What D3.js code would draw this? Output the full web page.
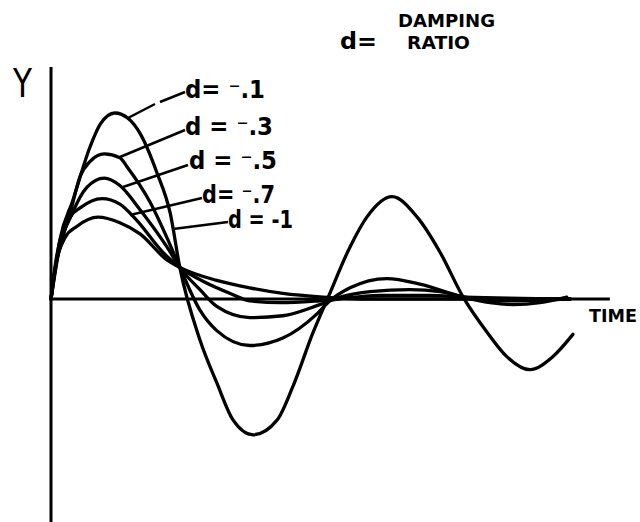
<!DOCTYPE html>
<html>
<head>
<meta charset="utf-8">
<script src="https://cdn.jsdelivr.net/npm/d3@7"></script>
<style>
  body { margin: 0; background: #fff; }
  svg { display: block; }
  text { font-family: "DejaVu Sans", sans-serif; fill: #000; }
</style>
</head>
<body>
<div id="chart"></div>
<script>
// damping ratios and their response curves: [time, amplitude]
const dampingLabels = ["d= \u207B.1", "d = \u207B.3", "d = \u207B.5", "d= \u207B.7", "d = -1"];

const curveD01 = [
  [0, 0], [0.16, 0.32], [0.39, 0.53], [0.70, 0.82], [0.88, 0.94], [1.14, 1.00],
  [1.38, 0.97], [1.59, 0.89], [1.89, 0.68], [2.13, 0.46], [2.30, 0.17], [2.66, -0.22],
  [2.96, -0.45], [3.25, -0.65], [3.61, -0.73], [4.04, -0.65], [4.32, -0.47], [4.68, -0.18],
  [4.95, 0.01], [5.34, 0.28], [5.64, 0.44], [6.09, 0.55], [6.54, 0.44], [6.95, 0.25],
  [7.36, 0.01], [7.79, -0.18], [8.14, -0.31], [8.55, -0.38], [8.96, -0.31], [9.32, -0.19]
];
const curveD03 = [
  [0, 0], [0.13, 0.24], [0.34, 0.46], [0.52, 0.66], [0.70, 0.74], [0.95, 0.78],
  [1.23, 0.76], [1.36, 0.71], [1.77, 0.52], [2.07, 0.33], [2.30, 0.17], [2.66, -0.06],
  [2.96, -0.17], [3.55, -0.25], [4.14, -0.21], [4.75, -0.08], [4.98, -0.01], [5.34, 0.06],
  [6.00, 0.11], [6.59, 0.08], [7.36, 0.01], [7.84, -0.02], [8.25, -0.03], [8.73, -0.02],
  [9.21, 0.01]
];
const curveD05 = [
  [0, 0], [0.11, 0.22], [0.38, 0.46], [0.64, 0.60], [0.95, 0.65], [1.23, 0.61],
  [1.59, 0.48], [2.07, 0.28], [2.30, 0.17], [2.66, 0.05], [2.96, -0.04], [3.55, -0.10],
  [4.14, -0.09], [4.80, -0.03], [5.16, 0.01], [5.70, 0.04], [6.41, 0.05], [6.95, 0.04],
  [7.39, 0.01], [8.02, -0.01], [9.27, 0]
];
const curveD07 = [
  [0, 0], [0.09, 0.21], [0.34, 0.44], [0.52, 0.49], [0.91, 0.54], [1.23, 0.51],
  [1.54, 0.42], [2.00, 0.25], [2.30, 0.17], [2.75, 0.09], [3.20, 0.03], [3.55, -0.01],
  [4.09, -0.02], [4.80, -0.01], [5.88, 0.02], [6.77, 0.02], [7.39, 0.01], [9.27, 0]
];
const curveD10 = [
  [0, 0], [0.04, 0.10], [0.25, 0.33], [0.46, 0.39], [0.84, 0.44], [1.23, 0.41],
  [1.59, 0.35], [2.07, 0.21], [2.30, 0.17], [2.96, 0.10], [3.55, 0.06], [4.14, 0.03],
  [4.86, 0.01], [5.52, 0], [9.27, 0]
];
const curves = [curveD01, curveD03, curveD05, curveD07, curveD10];

const width = 640;
const height = 522;

const svg = d3.select("#chart")
  .append("svg")
  .attr("width", width)
  .attr("height", height);

const x = d3.scaleLinear().domain([0, 10]).range([51, 611]);
const y = d3.scaleLinear().domain([-1, 1]).range([485, 113]);

// axes (hand drawn, no ticks)
svg.append("line")
  .attr("x1", x(0)).attr("x2", x(0))
  .attr("y1", y(1.247)).attr("y2", height)
  .attr("stroke", "#000").attr("stroke-width", 3);

svg.append("line")
  .attr("x1", x(0)).attr("x2", x(9.98))
  .attr("y1", y(0)).attr("y2", y(0))
  .attr("stroke", "#000").attr("stroke-width", 3);

const line = d3.line()
  .x(d => x(d[0]))
  .y(d => y(d[1]))
  .curve(d3.curveMonotoneX);

svg.selectAll(".resp")
  .data(curves)
  .enter()
  .append("path")
  .attr("class", "resp")
  .attr("fill", "none")
  .attr("stroke", "#000")
  .attr("stroke-width", 3.3)
  .attr("stroke-linejoin", "round")
  .attr("stroke-linecap", "round")
  .attr("d", d => line(d));

// leader lines from curves to labels
const leaders = [
  [[128, 118], [155, 104]],
  [[160, 102], [185, 92]],
  [[120, 157], [185, 130]],
  [[123, 187], [188, 165]],
  [[130, 215], [202, 198]],
  [[173, 229], [228, 222]]
];
svg.selectAll(".leader")
  .data(leaders)
  .enter()
  .append("line")
  .attr("x1", d => d[0][0]).attr("y1", d => d[0][1])
  .attr("x2", d => d[1][0]).attr("y2", d => d[1][1])
  .attr("stroke", "#000").attr("stroke-width", 2.5);

const labelPos = [
  { x: 185, y: 98, w: 80 },
  { x: 185, y: 135, w: 88 },
  { x: 189, y: 169, w: 88 },
  { x: 202, y: 203, w: 73 },
  { x: 228, y: 228, w: 65 }
];
svg.selectAll(".dlabel")
  .data(dampingLabels)
  .enter()
  .append("text")
  .attr("class", "dlabel")
  .attr("x", (d, i) => labelPos[i].x)
  .attr("y", (d, i) => labelPos[i].y)
  .attr("textLength", (d, i) => labelPos[i].w)
  .attr("lengthAdjust", "spacingAndGlyphs")
  .style("font-size", "24px")
  .style("font-weight", "bold")
  .text(d => d);

// title and axis names
svg.append("text")
  .attr("x", 340).attr("y", 49)
  .attr("textLength", 37).attr("lengthAdjust", "spacingAndGlyphs")
  .style("font-size", "23px").style("font-weight", "bold")
  .text("d=");

svg.append("text")
  .attr("x", 398).attr("y", 27)
  .attr("textLength", 97).attr("lengthAdjust", "spacingAndGlyphs")
  .style("font-size", "18px").style("font-weight", "bold")
  .text("DAMPING");

svg.append("text")
  .attr("x", 407).attr("y", 49)
  .attr("textLength", 63).attr("lengthAdjust", "spacingAndGlyphs")
  .style("font-size", "18px").style("font-weight", "bold")
  .text("RATIO");

svg.append("text")
  .attr("x", 589).attr("y", 322)
  .attr("textLength", 48).attr("lengthAdjust", "spacingAndGlyphs")
  .style("font-size", "18px").style("font-weight", "bold")
  .text("TIME");

svg.append("text")
  .attr("x", 13).attr("y", 97)
  .attr("textLength", 19).attr("lengthAdjust", "spacingAndGlyphs")
  .style("font-size", "39px")
  .text("Y");
</script>
</body>
</html>
